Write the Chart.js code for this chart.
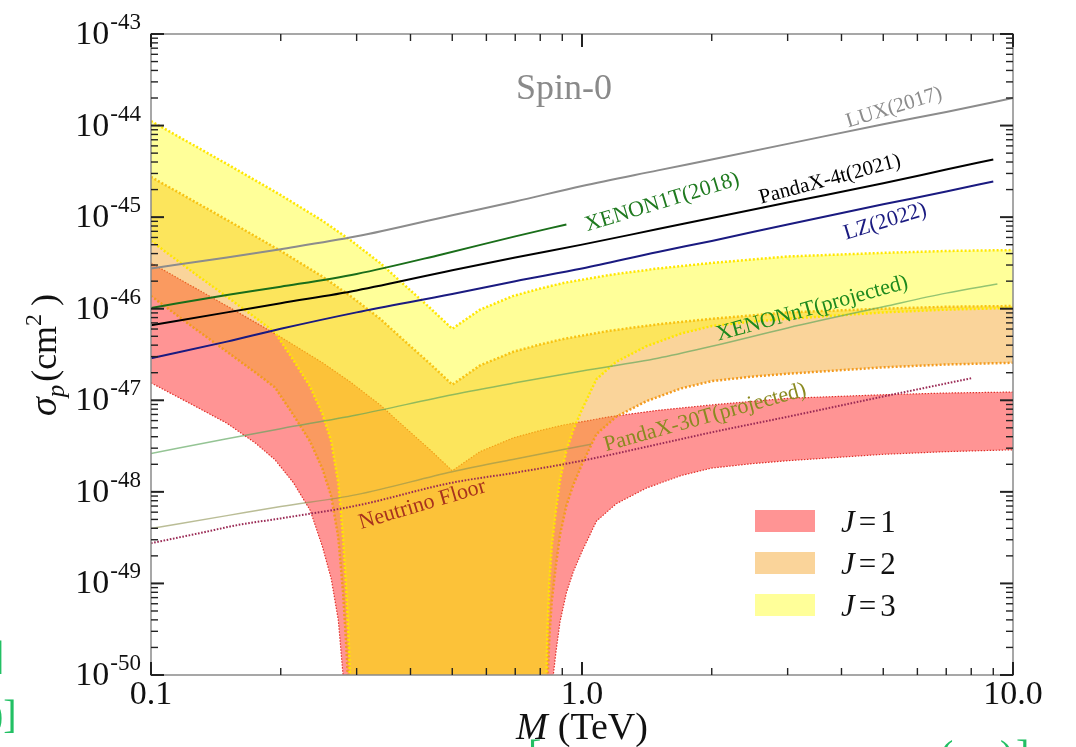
<!DOCTYPE html>
<html>
<head>
<meta charset="utf-8">
<title>Spin-0</title>
<script src="https://cdn.jsdelivr.net/npm/chart.js"></script>
<style>
  html, body { margin: 0; padding: 0; background: #fff; }
</style>
</head>
<body>
<canvas id="chart" width="1076" height="747"></canvas>
<script>
// masses in TeV, cross sections in cm^2
const floorSigma = 1e-55; // lower edge drops to zero between its two roots

const luxMass = [0.1, 0.15, 0.2, 0.3, 0.5, 0.7, 1, 1.5, 2, 3, 5, 7, 10];
const luxSigma = [2.75e-46, 3.63e-46, 4.47e-46, 6.17e-46, 1.05e-45, 1.48e-45, 2.19e-45, 3.24e-45, 4.27e-45, 6.31e-45, 1.035e-44, 1.41e-44, 2.0e-44];

const pandax4tMass = [0.1, 0.15, 0.2, 0.3, 0.5, 0.7, 1, 1.5, 2, 3, 5, 7, 9];
const pandax4tSigma = [6.61e-47, 9.12e-47, 1.15e-46, 1.585e-46, 2.63e-46, 3.63e-46, 5.01e-46, 7.41e-46, 9.77e-46, 1.445e-45, 2.34e-45, 3.31e-45, 4.27e-45];

const xenon1tMass = [0.1, 0.15, 0.2, 0.3, 0.47, 0.7, 0.92];
const xenon1tSigma = [1.02e-46, 1.41e-46, 1.74e-46, 2.40e-46, 3.89e-46, 6.17e-46, 8.32e-46];

const lzMass = [0.1, 0.15, 0.2, 0.3, 0.5, 0.7, 1, 1.5, 2, 3, 5, 7, 9];
const lzSigma = [2.88e-47, 4.37e-47, 6.03e-47, 9.12e-47, 1.445e-46, 2.0e-46, 2.75e-46, 4.17e-46, 5.50e-46, 8.32e-46, 1.38e-45, 1.905e-45, 2.455e-45];

const xenonntMass = [0.1, 0.15, 0.2, 0.3, 0.5, 0.7, 1, 1.5, 2, 3, 5, 7, 9.2];
const xenonntSigma = [2.63e-48, 3.80e-48, 4.90e-48, 6.92e-48, 1.15e-47, 1.55e-47, 2.09e-47, 2.88e-47, 3.89e-47, 6.17e-47, 1.05e-46, 1.48e-46, 1.86e-46];

const pandax30tMass = [0.1, 0.15, 0.2, 0.3, 0.5, 0.7, 1.05];
const pandax30tSigma = [3.98e-49, 5.50e-49, 6.92e-49, 9.33e-49, 1.66e-48, 2.29e-48, 3.31e-48];

const nuFloorMass = [0.1, 0.13, 0.16, 0.2, 0.3, 0.5, 0.7, 1, 1.5, 2, 3, 5, 8];
const nuFloorSigma = [2.75e-49, 3.55e-49, 4.37e-49, 5.13e-49, 7.08e-49, 1.26e-48, 1.62e-48, 2.19e-48, 3.31e-48, 4.47e-48, 6.61e-48, 1.10e-47, 1.74e-47];

// upper edges of the J bands
const bandUpperMass = [0.1, 0.15, 0.2, 0.25, 0.29, 0.34, 0.385, 0.444, 0.5, 0.58, 0.693, 0.8, 0.906, 1.16, 1.5, 2, 3, 5, 7, 10];
const j3UpperSigma = [1.12e-44, 3.80e-45, 1.74e-45, 9.12e-46, 5.62e-46, 3.16e-46, 1.86e-46, 1.02e-46, 6.03e-47, 9.77e-47, 1.38e-46, 1.66e-46, 1.91e-46, 2.34e-46, 2.75e-46, 3.16e-46, 3.72e-46, 4.07e-46, 4.27e-46, 4.37e-46];
const j2UpperSigma = [2.75e-45, 9.33e-46, 4.27e-46, 2.24e-46, 1.38e-46, 7.76e-47, 4.57e-47, 2.51e-47, 1.48e-47, 2.40e-47, 3.39e-47, 4.07e-47, 4.68e-47, 5.75e-47, 6.76e-47, 7.76e-47, 9.12e-47, 1.0e-46, 1.05e-46, 1.07e-46];
const j1UpperSigma = [3.16e-46, 1.07e-46, 4.90e-47, 2.57e-47, 1.585e-47, 8.91e-48, 5.25e-48, 2.88e-48, 1.70e-48, 2.75e-48, 3.89e-48, 4.68e-48, 5.37e-48, 6.61e-48, 7.76e-48, 8.91e-48, 1.05e-47, 1.15e-47, 1.20e-47, 1.23e-47];

// lower edges of the J bands
const bandLowerMass = [0.1, 0.125, 0.15, 0.175, 0.194, 0.214, 0.234, 0.25, 0.262, 0.272, 0.279, 0.284, 0.288, 0.291, 0.292,
  0.821, 0.826, 0.831, 0.84, 0.851, 0.87, 0.889, 0.92, 0.955, 1.0, 1.08, 1.2, 1.41, 1.7, 2.0, 2.5, 3, 5, 7, 10];
const j3LowerSigma = [5.50e-46, 2.51e-46, 1.35e-46, 7.94e-47, 5.50e-47, 2.75e-47, 1.41e-47, 7.08e-48, 3.55e-48, 1.26e-48, 3.16e-49, 7.94e-50, 2.0e-50, 3.98e-51, floorSigma,
  floorSigma, 7.08e-51, 2.82e-50, 1.02e-49, 2.57e-49, 6.31e-49, 1.35e-48, 2.82e-48, 4.79e-48, 7.94e-48, 1.70e-47, 2.63e-47, 3.89e-47, 5.37e-47, 6.46e-47, 7.24e-47, 7.76e-47, 9.12e-47, 9.77e-47, 1.02e-46];
const j2LowerSigma = [1.38e-46, 6.31e-47, 3.39e-47, 2.0e-47, 1.38e-47, 6.92e-48, 3.55e-48, 1.78e-48, 8.91e-49, 3.16e-49, 7.94e-50, 2.0e-50, 5.01e-51, 1.0e-51, floorSigma,
  floorSigma, 1.78e-51, 7.08e-51, 2.57e-50, 6.46e-50, 1.585e-49, 3.39e-49, 7.08e-49, 1.20e-48, 2.0e-48, 4.27e-48, 6.61e-48, 9.77e-48, 1.35e-47, 1.62e-47, 1.82e-47, 1.95e-47, 2.29e-47, 2.46e-47, 2.57e-47];
const j1LowerSigma = [1.55e-47, 8.91e-48, 5.62e-48, 3.39e-48, 2.24e-48, 1.26e-48, 6.31e-49, 2.51e-49, 1.12e-49, 3.98e-50, 1.0e-50, 2.51e-51, 6.31e-52, 1e-52, floorSigma,
  floorSigma, 2.0e-52, 7.94e-52, 2.88e-51, 7.24e-51, 1.78e-50, 3.80e-50, 7.94e-50, 1.35e-49, 2.24e-49, 4.79e-49, 7.41e-49, 1.10e-48, 1.51e-48, 1.82e-48, 2.04e-48, 2.19e-48, 2.57e-48, 2.75e-48, 2.88e-48];

// axes
const xTickValues = [0.1, 1, 10];
const xTickLabels = ['0.1', '1.0', '10.0'];
const yTickExponents = [-43, -44, -45, -46, -47, -48, -49, -50];
const legendLabels = ['1', '2', '3'];

const serif = '"Liberation Serif", "Times New Roman", serif';
const bandFill = ['rgba(255, 0, 0, 0.42)', 'rgba(245, 160, 30, 0.45)', 'rgba(255, 255, 0, 0.4)'];

function pts(xs, ys) {
  return xs.map((x, i) => ({ x: x, y: ys[i] }));
}

function lineSet(label, xs, ys, color, width, dash) {
  return {
    label: label,
    data: pts(xs, ys),
    showLine: true,
    borderColor: color,
    borderWidth: width,
    borderDash: dash || [],
    pointRadius: 0,
    fill: false
  };
}

// smooth experimental curves
function limitSet(label, xs, ys, color, width, dash) {
  return Object.assign(lineSet(label, xs, ys, color, width, dash), { cubicInterpolationMode: 'monotone' });
}

// first dataset ends up on top, so limits come first and J=1 last
const datasets = [
  limitSet('LUX(2017)', luxMass, luxSigma, '#8c8c8c', 2),
  limitSet('PandaX-4t(2021)', pandax4tMass, pandax4tSigma, '#000000', 2),
  limitSet('XENON1T(2018)', xenon1tMass, xenon1tSigma, '#1a6e1a', 2),
  limitSet('LZ(2022)', lzMass, lzSigma, '#1a1a80', 2),
  limitSet('XENONnT(projected)', xenonntMass, xenonntSigma, 'rgba(90, 165, 90, 0.65)', 1.5),
  limitSet('PandaX-30T(projected)', pandax30tMass, pandax30tSigma, 'rgba(140, 145, 80, 0.6)', 1.5),
  limitSet('Neutrino Floor', nuFloorMass, nuFloorSigma, '#9a2a55', 2, [1.6, 1.6]),

  lineSet('J=3 upper', bandUpperMass, j3UpperSigma, '#ffe600', 2.5, [2, 2]),
  Object.assign(lineSet('J=3', bandLowerMass, j3LowerSigma, '#ffe600', 2.5, [2, 2]), { fill: '-1', backgroundColor: bandFill[2] }),
  lineSet('J=2 upper', bandUpperMass, j2UpperSigma, '#f39a1e', 2.5, [2, 2]),
  Object.assign(lineSet('J=2', bandLowerMass, j2LowerSigma, '#f39a1e', 2.5, [2, 2]), { fill: '-1', backgroundColor: bandFill[1] }),
  lineSet('J=1 upper', bandUpperMass, j1UpperSigma, '#e0302a', 1.2, [1.5, 1.5]),
  Object.assign(lineSet('J=1', bandLowerMass, j1LowerSigma, '#e0302a', 1.2, [1.5, 1.5]), { fill: '-1', backgroundColor: bandFill[0] })
];

// text along the curves, placed in data coordinates
const curveLabels = [
  { text: 'Spin-0', m: 0.908, s: 2.47e-44, angle: 0, color: '#8a8a8a', size: 36 },
  { text: 'LUX(2017)', m: 5.30, s: 1.57e-44, angle: -17, color: '#8c8c8c', size: 21 },
  { text: 'PandaX-4t(2021)', m: 3.76, s: 2.57e-45, angle: -15, color: '#000000', size: 21 },
  { text: 'XENON1T(2018)', m: 1.535, s: 1.45e-45, angle: -17, color: '#1f7a1f', size: 22 },
  { text: 'LZ(2022)', m: 5.05, s: 8.91e-46, angle: -17, color: '#1a1a80', size: 22 },
  { text: 'XENONnT(projected)', m: 3.42, s: 1.0e-46, angle: -15.5, color: '#1d8a1d', size: 22 },
  { text: 'PandaX-30T(projected)', m: 1.93, s: 6.46e-48, angle: -15.5, color: '#8a8a20', size: 22 },
  { text: 'Neutrino Floor', m: 0.426, s: 7.24e-49, angle: -16.5, color: '#a8321e', size: 22 }
];

function drawRuns(ctx, runs, x, y, align) {
  let total = 0;
  runs.forEach(r => {
    ctx.font = r.font;
    r.w = ctx.measureText(r.t).width;
    total += r.w + (r.gap || 0);
  });
  let cx = align === 'center' ? x - total / 2 : (align === 'right' ? x - total : x);
  runs.forEach(r => {
    ctx.font = r.font;
    ctx.fillText(r.t, cx, y + (r.dy || 0));
    cx += r.w + (r.gap || 0);
  });
}

const decor = {
  id: 'decor',
  afterDatasetsDraw(chart) {
    const ctx = chart.ctx;
    const a = chart.chartArea;
    const xs = chart.scales.x;
    const ys = chart.scales.y;
    ctx.save();
    ctx.strokeStyle = '#8a8a8a';
    ctx.lineWidth = 1.5;
    ctx.strokeRect(a.left, a.top, a.right - a.left, a.bottom - a.top);

    function seg(x1, y1, x2, y2, w) {
      ctx.lineWidth = w;
      ctx.beginPath();
      ctx.moveTo(x1, y1);
      ctx.lineTo(x2, y2);
      ctx.stroke();
    }
    ctx.strokeStyle = '#222';
    // y ticks, inside, both sides
    yTickExponents.forEach(e => {
      const py = ys.getPixelForValue(Math.pow(10, e));
      seg(a.left, py, a.left + 13, py, 2);
      seg(a.right - 13, py, a.right, py, 2);
      if (e > -50) {
        for (let k = 2; k <= 9; k++) {
          const my = ys.getPixelForValue(k * Math.pow(10, e - 1));
          seg(a.left, my, a.left + 7, my, 1.4);
          seg(a.right - 7, my, a.right, my, 1.4);
        }
      }
    });
    // x ticks, inside, top and bottom
    xTickValues.forEach((v, i) => {
      const px = xs.getPixelForValue(v);
      seg(px, a.bottom, px, a.bottom - 13, 2);
      seg(px, a.top, px, a.top + 13, 2);
      if (i < xTickValues.length - 1) {
        for (let k = 2; k <= 9; k++) {
          const mx = xs.getPixelForValue(k * v);
          seg(mx, a.bottom, mx, a.bottom - 7, 1.4);
          seg(mx, a.top, mx, a.top + 7, 1.4);
        }
      }
    });
    ctx.restore();
  },
  afterDraw(chart) {
    const ctx = chart.ctx;
    const a = chart.chartArea;
    const xs = chart.scales.x;
    const ys = chart.scales.y;
    ctx.save();
    ctx.fillStyle = '#111';
    ctx.textBaseline = 'alphabetic';
    ctx.textAlign = 'left';

    // y tick labels 10^e
    yTickExponents.forEach(e => {
      const py = ys.getPixelForValue(Math.pow(10, e));
      drawRuns(ctx, [
        { t: '10', font: `34px ${serif}`, gap: 1 },
        { t: String(e), font: `23px ${serif}`, dy: -15 }
      ], a.left - 10, py + 10, 'right');
    });
    // x tick labels
    xTickValues.forEach((v, i) => {
      drawRuns(ctx, [{ t: xTickLabels[i], font: `34px ${serif}` }], xs.getPixelForValue(v), a.bottom + 29, 'center');
    });

    // axis titles
    drawRuns(ctx, [
      { t: 'M', font: `italic 38px ${serif}`, gap: 10 },
      { t: '(TeV)', font: `38px ${serif}` }
    ], (a.left + a.right) / 2, 739, 'center');

    ctx.save();
    ctx.translate(56, 355);
    ctx.rotate(-Math.PI / 2);
    drawRuns(ctx, [
      { t: '\u03C3', font: `italic 38px ${serif}` },
      { t: 'p', font: `italic 25px ${serif}`, dy: 8, gap: 3 },
      { t: '(cm', font: `36px ${serif}` },
      { t: '2', font: `24px ${serif}`, dy: -15, gap: 8 },
      { t: ')', font: `36px ${serif}` }
    ], 0, 0, 'center');
    ctx.restore();

    // curve labels
    curveLabels.forEach(l => {
      ctx.save();
      ctx.translate(xs.getPixelForValue(l.m), ys.getPixelForValue(l.s));
      ctx.rotate(l.angle * Math.PI / 180);
      ctx.fillStyle = l.color;
      ctx.font = `${l.size}px ${serif}`;
      ctx.textAlign = 'center';
      ctx.textBaseline = 'middle';
      ctx.fillText(l.text, 0, 0);
      ctx.restore();
    });

    // legend
    const lx = a.left + 604;
    const ly = a.top + 476;
    legendLabels.forEach((n, i) => {
      const top = ly + i * 42;
      ctx.fillStyle = '#ffffff';
      ctx.fillRect(lx, top, 60, 22);
      ctx.fillStyle = bandFill[i];
      ctx.fillRect(lx, top, 60, 22);
      ctx.fillStyle = '#111';
      drawRuns(ctx, [
        { t: 'J', font: `italic 31px ${serif}`, gap: 4 },
        { t: '=', font: `31px ${serif}`, gap: 4 },
        { t: n, font: `31px ${serif}` }
      ], lx + 86, top + 22, 'left');
    });

    // green brackets cut in at the page edges
    ctx.fillStyle = '#22c064';
    ctx.font = `40px ${serif}`;
    ctx.textAlign = 'left';
    ctx.fillText(']', -9, 669);
    ctx.fillText(')]', -10, 728);
    ctx.fillText('[', 528, 768);
    ctx.fillText('(', 940, 768);
    ctx.fillText(')', 1000, 768);
    ctx.fillText(']', 1016, 768);
    ctx.restore();
  }
};

new Chart(document.getElementById('chart').getContext('2d'), {
  type: 'scatter',
  data: { datasets: datasets },
  options: {
    responsive: false,
    animation: false,
    events: [],
    layout: { padding: { left: 151, top: 34, right: 63, bottom: 72 } },
    elements: { line: { tension: 0, borderCapStyle: 'butt' }, point: { radius: 0 } },
    plugins: { legend: { display: false }, tooltip: { enabled: false } },
    scales: {
      x: { type: 'logarithmic', min: 0.1, max: 10, display: false },
      y: { type: 'logarithmic', min: 1e-50, max: 1e-43, display: false }
    }
  },
  plugins: [decor]
});
</script>
</body>
</html>
